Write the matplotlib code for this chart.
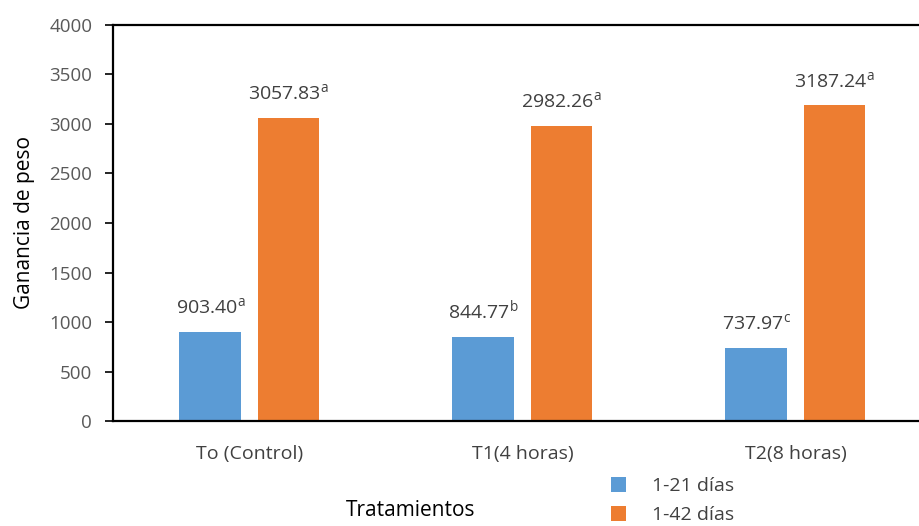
import matplotlib.pyplot as plt
import numpy as np

plt.rcParams['font.family'] = ['Open Sans', 'DejaVu Sans']
plt.rcParams['mathtext.default'] = 'regular'

tratamientos = ['To (Control)', 'T1(4 horas)', 'T2(8 horas)']
dias_21 = [903.40, 844.77, 737.97]
dias_42 = [3057.83, 2982.26, 3187.24]
letras_21 = ['a', 'b', 'c']
letras_42 = ['a', 'a', 'a']

azul = '#5B9BD5'
naranja = '#ED7D31'
gris = '#404040'

fig = plt.figure(figsize=(9.2, 5.26), dpi=100)
ax = fig.add_axes([0.1228, 0.1996, 0.8902, 0.7529])

x = np.arange(len(tratamientos))
w = 0.227
off = 0.143
b1 = ax.bar(x - off, dias_21, w, color=azul, label='1-21 días')
b2 = ax.bar(x + off, dias_42, w, color=naranja, label='1-42 días')

# etiquetas de valor con letra de significancia
for xi, v, l in zip(x - off, dias_21, letras_21):
    ax.text(xi, v + 150, f'{v:.2f}$^{{{l}}}$', ha='center', va='bottom',
            fontsize=14, color=gris)
for xi, v, l in zip(x + off, dias_42, letras_42):
    ax.text(xi, v + 150, f'{v:.2f}$^{{{l}}}$', ha='center', va='bottom',
            fontsize=14, color=gris)

ax.set_xlim(-0.5, 2.5)
ax.set_ylim(0, 4000)
ax.set_yticks(np.arange(0, 4001, 500))
ax.set_xticks(x)
ax.set_xticklabels(tratamientos)
ax.tick_params(axis='y', labelsize=13.5, labelcolor='#595959', length=6, width=1.2, pad=9)
ax.tick_params(axis='x', labelsize=14, labelcolor=gris, length=0, pad=17)

for s in ['left', 'bottom', 'top']:
    ax.spines[s].set_linewidth(1.6)
    ax.spines[s].set_color('black')
ax.spines['right'].set_visible(False)

ax.set_ylabel('Ganancia de peso', fontsize=15, color='black', labelpad=10)
fig.text(0.446, 0.03, 'Tratamientos', ha='center', va='center', fontsize=15, color='black')

fig.legend(handles=[b1, b2], loc='center left', bbox_to_anchor=(0.645, 0.048),
           frameon=False, fontsize=14, labelcolor=gris, handlelength=0.8,
           handleheight=0.8, handletextpad=1.3, labelspacing=0.55)

fig.savefig('out.png', dpi=100)
